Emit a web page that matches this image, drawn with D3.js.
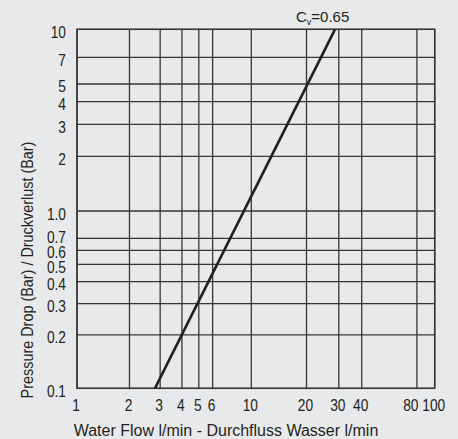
<!DOCTYPE html>
<html>
<head>
<meta charset="utf-8">
<script src="https://cdn.jsdelivr.net/npm/d3@7"></script>
<style>
  html, body { margin: 0; padding: 0; background: #e8e9eb; }
  svg { display: block; }
  text { font-family: "Liberation Sans", Arial, sans-serif; fill: #231f20; }
</style>
</head>
<body>
<div id="chart"></div>
<script>
// x: water flow l/min, y: pressure drop bar
var xTicks = [1, 2, 3, 4, 5, 6, 10, 20, 30, 40, 80, 100];
var yTicks = [0.1, 0.2, 0.3, 0.4, 0.5, 0.6, 0.7, 1, 2, 3, 4, 5, 7, 10];
var yLabels = ['0.1', '0.2', '0.3', '0.4', '0.5', '0.6', '0.7', '1.0', '2', '3', '4', '5', '7', '10'];

// Cv = 0.65 curve
var flow = [2.8, 28.6];
var drop = [0.1, 10];

var width = 458, height = 439;
var squeeze = 0.86;

var svg = d3.select('#chart').append('svg')
	.attr('width', width)
	.attr('height', height);

// the printed chart has slightly uneven decades, so each decade gets its own span
var x = d3.scaleLog()
	.domain([1, 10, 100])
	.range([77, 251.3, 434.7]);

var y = d3.scaleLog()
	.domain([0.1, 1, 10])
	.range([388.3, 211, 29.3]);

var plot = svg.append('g');

plot.selectAll('line.v')
	.data(xTicks)
	.enter().append('line')
	.attr('class', 'v')
	.attr('x1', function(d) { return x(d); })
	.attr('x2', function(d) { return x(d); })
	.attr('y1', y(10))
	.attr('y2', y(0.1))
	.style('stroke', '#363636')
	.style('stroke-width', 1.3);

plot.selectAll('line.h')
	.data(yTicks)
	.enter().append('line')
	.attr('class', 'h')
	.attr('x1', x(1))
	.attr('x2', x(100))
	.attr('y1', function(d) { return y(d); })
	.attr('y2', function(d) { return y(d); })
	.style('stroke', '#363636')
	.style('stroke-width', 1.3);

plot.append('rect')
	.attr('x', x(1))
	.attr('y', y(10))
	.attr('width', x(100) - x(1))
	.attr('height', y(0.1) - y(10))
	.style('fill', 'none')
	.style('stroke', '#363636')
	.style('stroke-width', 1.5);

var pts = flow.map(function(d, i) { return [d, drop[i]]; });

plot.append('path')
	.datum(pts)
	.attr('d', d3.line()
		.x(function(d) { return x(d[0]); })
		.y(function(d) { return y(d[1]); }))
	.style('fill', 'none')
	.style('stroke', '#231f20')
	.style('stroke-width', 2.6);

// tick labels, slightly condensed like the print
svg.selectAll('text.xt')
	.data(xTicks)
	.enter().append('text')
	.attr('class', 'xt')
	.attr('transform', function(d, i) {
		var px = i === xTicks.length - 2 ? x(d) + 1.5 : x(d) - 1;
		return 'translate(' + px + ',411) scale(' + squeeze + ',1)';
	})
	.attr('text-anchor', function(d, i) { return i === xTicks.length - 2 ? 'end' : 'middle'; })
	.style('font-size', '16px')
	.text(function(d) { return d; });

// push crowded y labels apart, bottom to top
var labelY = [];
yTicks.forEach(function(d, i) {
	var ly = y(d) + 8.5;
	if (i > 0) ly = Math.min(ly, labelY[i - 1] - 15);
	labelY.push(ly);
});

svg.selectAll('text.yt')
	.data(yTicks)
	.enter().append('text')
	.attr('class', 'yt')
	.attr('transform', function(d, i) {
		return 'translate(66,' + labelY[i] + ') scale(' + squeeze + ',1)';
	})
	.attr('text-anchor', 'end')
	.style('font-size', '16px')
	.text(function(d, i) { return yLabels[i]; });

svg.append('text')
	.attr('x', 226)
	.attr('y', 436)
	.attr('text-anchor', 'middle')
	.style('font-size', '16px')
	.text('Water Flow l/min - Durchfluss Wasser l/min');

svg.append('text')
	.attr('transform', 'translate(32.5,270) rotate(-90) scale(0.9,1)')
	.attr('text-anchor', 'middle')
	.style('font-size', '16px')
	.text('Pressure Drop (Bar) / Druckverlust (Bar)');

var cv = svg.append('text')
	.attr('x', 296)
	.attr('y', 22)
	.style('font-size', '15px');
cv.append('tspan').text('C');
cv.append('tspan').attr('dy', 3).style('font-size', '9px').text('v');
cv.append('tspan').attr('dy', -3).text('=0.65');
</script>
</body>
</html>
